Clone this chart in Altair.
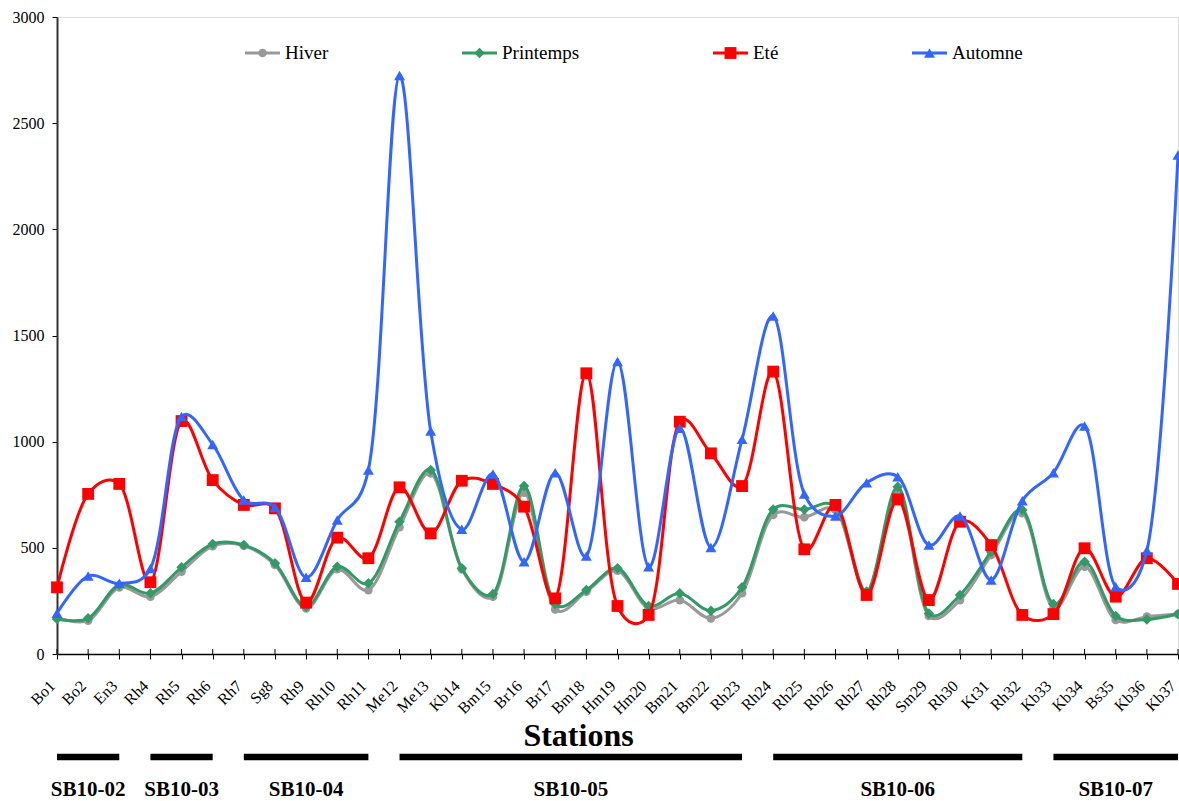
import altair as alt
import pandas as pd

stations = ["Bo1", "Bo2", "En3", "Rh4", "Rh5", "Rh6", "Rh7", "Sg8", "Rh9", "Rh10",
            "Rh11", "Me12", "Me13", "Kb14", "Bm15", "Br16", "Br17", "Bm18", "Hm19",
            "Hm20", "Bm21", "Bm22", "Rh23", "Rh24", "Rh25", "Rh26", "Rh27", "Rh28",
            "Sm29", "Rh30", "Kt31", "Rh32", "Kb33", "Kb34", "Bs35", "Kb36", "Kb37"]

hiver = [172, 157, 314, 270, 388, 508, 510, 419, 215, 399, 301, 597, 851, 399, 270,
         760, 210, 294, 392, 215, 254, 168, 286, 655, 644, 678, 286, 765, 179, 254,
         466, 663, 215, 411, 160, 176, 188]
printemps = [165, 168, 325, 286, 408, 518, 513, 427, 223, 411, 333, 623, 867, 404, 283,
             791, 235, 301, 404, 226, 286, 204, 314, 681, 681, 694, 294, 788, 191, 278,
             482, 678, 235, 435, 179, 163, 188]
ete = [314, 754, 801, 338, 1097, 819, 702, 686, 242, 548, 451, 785, 568, 816, 801,
       694, 262, 1322, 226, 184, 1094, 945, 791, 1330, 493, 702, 278, 728, 254, 623,
       513, 184, 188, 498, 270, 451, 330]
automne = [192, 367, 333, 403, 1118, 987, 725, 691, 361, 631, 867, 2725, 1050, 587, 848,
           435, 854, 462, 1377, 411, 1063, 502, 1011, 1592, 754, 650, 807, 835, 513, 650,
           349, 722, 854, 1074, 317, 487, 2350]

series_names = ["Hiver", "Printemps", "Eté", "Automne"]
series_values = [hiver, printemps, ete, automne]

group_names = ["SB10-02", "SB10-03", "SB10-04", "SB10-05", "SB10-06", "SB10-07"]
group_first = ["Bo1", "Rh4", "Rh7", "Me12", "Rh24", "Kb33"]
group_last = ["En3", "Rh6", "Rh11", "Rh23", "Rh32", "Kb37"]

# styles
colors = ["#999999", "#339966", "#FF0000", "#3366FF"]
shapes = ["circle", "diamond", "square", "triangle-up"]
sizes = [75, 110, 140, 120]
FONT = "Liberation Serif"

W, H = 1121, 637
n = len(stations)

xscale = alt.Scale(domain=[0, n - 1], nice=False, zero=False)
yscale = alt.Scale(domain=[0, 3000], nice=False)

label_js = "[" + ",".join("'" + s + "'" for s in stations) + "][datum.value]"

xaxis = alt.Axis(values=list(range(n)), labelExpr=label_js, grid=False,
                 domainColor="black", domainWidth=1.5, tickColor="black", tickSize=5,
                 tickWidth=1, labelAngle=-45, labelAlign="right", labelBaseline="middle",
                 labelFont=FONT, labelFontSize=16, labelColor="black", labelPadding=24,
                 labelOffset=-5, labelOverlap=False, labelFlush=False, labelBound=False,
                 title="Stations", titleFont=FONT, titleFontSize=32, titleFontWeight="bold",
                 titleColor="black", titleX=521, titleY=91, titleBaseline="alphabetic",
                 titleAlign="center")
yaxis = alt.Axis(values=list(range(0, 3001, 500)), format="d", grid=False,
                 domainColor="#333333", domainWidth=2, tickColor="black", tickSize=5,
                 tickWidth=1, labelFont=FONT, labelFontSize=16, labelColor="black",
                 labelPadding=8, title=None)

sdf = pd.DataFrame({"idx": list(range(n)), "station": stations})

# inward half of the x tick marks (the axis draws the outward half)
inner_ticks = alt.Chart(sdf).mark_rule(color="black", strokeWidth=1).encode(
    x=alt.X("idx:Q", scale=xscale, axis=xaxis), y=alt.value(H - 5), y2=alt.value(H))

layers = [inner_ticks]
for i, (name, vals) in enumerate(zip(series_names, series_values)):
    d = pd.DataFrame({"idx": list(range(n)), "station": stations, "value": vals,
                      "series": name})
    base = alt.Chart(d)
    line = base.mark_line(interpolate="catmull-rom", tension=0.25, strokeWidth=3,
                          color=colors[i], clip=False).encode(
        x=alt.X("idx:Q", scale=xscale, axis=xaxis),
        y=alt.Y("value:Q", scale=yscale, axis=yaxis),
    )
    pts = base.mark_point(filled=True, shape=shapes[i], size=sizes[i], color=colors[i],
                          opacity=1, clip=False).encode(
        x=alt.X("idx:Q", scale=xscale, axis=xaxis),
        y=alt.Y("value:Q", scale=yscale, axis=yaxis),
    )
    layers += [line, pts]

# manual legend (inside plot area, top)
leg_line_start = [188, 405, 656, 855]
leg_y = 36
for i, name in enumerate(series_names):
    x0 = leg_line_start[i]
    layers.append(alt.Chart(pd.DataFrame({"a": [0]})).mark_rule(
        color=colors[i], strokeWidth=3).encode(
        x=alt.value(x0), x2=alt.value(x0 + 35), y=alt.value(leg_y)))
    layers.append(alt.Chart(pd.DataFrame({"a": [0]})).mark_point(
        filled=True, shape=shapes[i], size=sizes[i], color=colors[i], opacity=1).encode(
        x=alt.value(x0 + 17.5), y=alt.value(leg_y)))
    layers.append(alt.Chart(pd.DataFrame({"t": [name]})).mark_text(
        font=FONT, fontSize=19, align="left", baseline="middle", color="black").encode(
        x=alt.value(x0 + 40), y=alt.value(leg_y), text="t:N"))

# group bars and labels below the axis
gdf = pd.DataFrame({
    "group": group_names,
    "start": [stations.index(s) for s in group_first],
    "end": [stations.index(s) for s in group_last],
})
gdf["mid"] = (gdf["start"] + gdf["end"]) / 2
bars = alt.Chart(gdf).mark_rule(color="black", strokeWidth=6.5, clip=False).encode(
    x=alt.X("start:Q", scale=xscale, axis=xaxis), x2="end:Q", y=alt.value(740))
glabels = alt.Chart(gdf).mark_text(font=FONT, fontSize=21, fontWeight="bold",
                                   color="black", align="center",
                                   baseline="alphabetic", clip=False).encode(
    x=alt.X("mid:Q", scale=xscale, axis=xaxis), y=alt.value(779), text="group:N")
layers += [bars, glabels]

chart = alt.layer(*layers).properties(
    width=W, height=H,
    padding={"left": 57, "top": 17, "right": 1, "bottom": 147},
    autosize=alt.AutoSizeParams(type="none"),
).configure_view(stroke="#999999", strokeWidth=1.5).configure(background="white")

chart.save("out.html", embed_options={"renderer": "svg", "actions": False})
